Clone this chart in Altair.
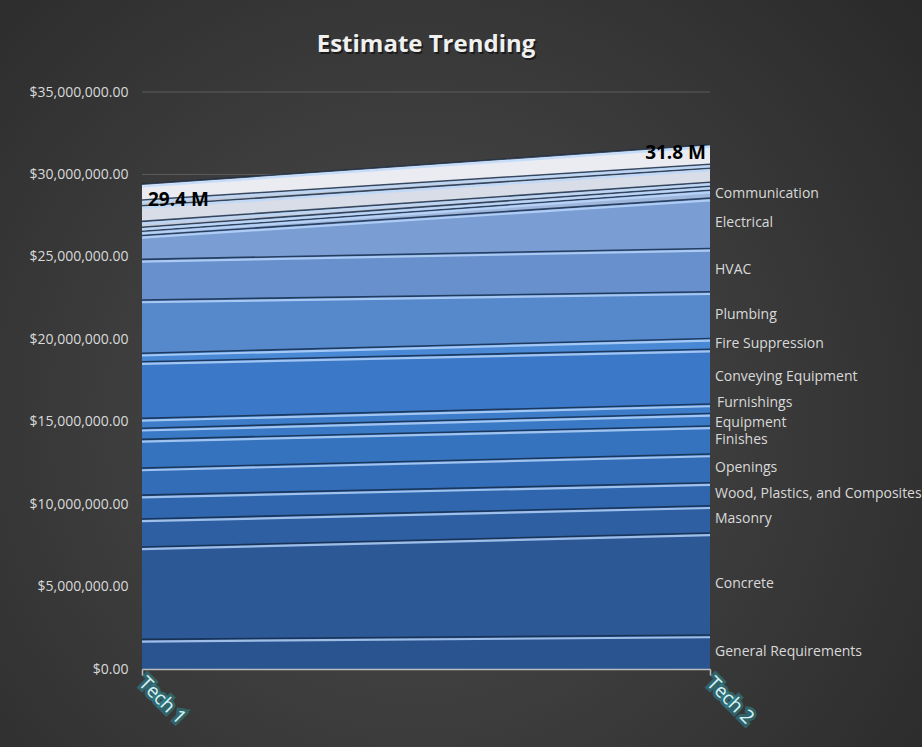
import altair as alt
import pandas as pd

stages = ["Tech 1", "Tech 2"]
categories = [
    "General Requirements", "Concrete", "Masonry", "Wood, Plastics, and Composites",
    "Openings", "Finishes", "Equipment", "Furnishings", "Conveying Equipment",
    "Fire Suppression", "Plumbing", "HVAC", "Electrical", "Communication",
    "Electronic Safety and Security", "Earthwork", "Exterior Improvements",
    "Utilities", "Transportation",
]
shown_labels = [
    "General Requirements", "Concrete", "Masonry", "Wood, Plastics, and Composites",
    "Openings", "Finishes", "Equipment", "Furnishings", "Conveying Equipment",
    "Fire Suppression", "Plumbing", "HVAC", "Electrical", "Communication",
]
# values in $ millions
tech1 = [1.80, 5.60, 1.70, 1.45, 1.64, 1.74, 0.67, 0.60, 3.44, 0.51, 3.23, 2.47,
         1.45, 0.25, 0.25, 0.35, 0.95, 0.35, 0.95]
tech2 = [2.06, 6.19, 1.65, 1.40, 1.74, 1.70, 0.76, 0.57, 3.33, 0.65, 2.83, 2.63,
         3.05, 0.49, 0.24, 0.24, 0.85, 0.24, 1.18]
y_ticks = [0, 5e6, 10e6, 15e6, 20e6, 25e6, 30e6, 35e6]
title_text = "Estimate Trending"

fill_colors = [
    "#2a5490", "#2c5896", "#2e5fa3", "#3066ad", "#336db7", "#3673be", "#3a79c5",
    "#3c7cc9", "#3b79c8", "#4888d4", "#5688cc", "#6790cc", "#7a9dd3", "#a0b7dd",
    "#b9c5dc", "#c6ccda", "#d8dde7", "#c4cad6", "#eaecf1",
]

rows = []
for i, c in enumerate(categories):
    for s, vals in zip(stages, [tech1, tech2]):
        rows.append({"Stage": s, "Category": c, "order": i, "Value": vals[i] * 1e6,
                     "Label": c if c in shown_labels else ""})
df = pd.DataFrame(rows)

W, H = 568, 577
font = "Open Sans"

xscale = alt.Scale(domain=stages, type="point", padding=0)
xenc = alt.X("Stage:N", scale=xscale,
             axis=alt.Axis(title=None, labels=False, domain=True, domainColor="#bcbcbc",
                           domainWidth=1.5, ticks=True, tickColor="#bcbcbc", tickSize=6,
                           tickWidth=1.5, grid=False, zindex=1))
yscale = alt.Scale(domain=[0, 35e6], nice=False, zero=True)

bg = alt.Chart(pd.DataFrame({"a": [0]})).mark_rect(
    fill={"gradient": "radial",
          "stops": [{"offset": 0, "color": "#4d4d4d"}, {"offset": 1, "color": "#262626"}],
          "x1": 0.45, "y1": 0.55, "x2": 0.45, "y2": 0.55, "r1": 0, "r2": 0.78}
).encode(x=alt.value(-142), x2=alt.value(780), y=alt.value(-92), y2=alt.value(655))

grid = alt.Chart(pd.DataFrame({"v": y_ticks})).mark_rule(color="#5c5c5c", strokeWidth=1).encode(
    y=alt.Y("v:Q", scale=yscale,
            axis=alt.Axis(title=None, format="$,.2f", labelColor="#d9d9d9", labelFont=font,
                          labelFontSize=14, ticks=False, tickSize=0, domain=False, grid=False,
                          labelPadding=14, values=y_ticks, zindex=1))
)

base = alt.Chart(df).transform_stack(
    stack="Value", groupby=["Stage"], sort=[alt.SortField("order", order="ascending")],
    as_=["lo", "hi"]
)

areas = base.mark_area(opacity=1).encode(
    x=xenc,
    y=alt.Y("hi:Q", scale=yscale),
    y2="lo:Q",
    color=alt.Color("Category:N", scale=alt.Scale(domain=categories, range=fill_colors),
                    legend=None),
    order="order:Q",
)

dark = base.mark_line(color="#142a48", strokeWidth=1.6, opacity=0.8).encode(
    x=alt.X("Stage:N", scale=xscale),
    y=alt.Y("hi:Q", scale=yscale), detail="Category:N")

light = base.mark_line(color="#bcd8fc", strokeWidth=2.2, opacity=0.8, yOffset=2.2).encode(
    x=alt.X("Stage:N", scale=xscale),
    y=alt.Y("hi:Q", scale=yscale), detail="Category:N")

label_base = base.transform_filter(
    (alt.datum.Stage == "Tech 2") & (alt.datum.Label != "")
).transform_calculate(mid="(datum.lo + datum.hi) / 2")

cat_labels = label_base.transform_filter(
    (alt.datum.Label != "Furnishings") & (alt.datum.Label != "Equipment")
).mark_text(
    align="left", baseline="middle", dx=5, font=font, fontSize=14, color="#d9d9d9"
).encode(x=alt.X("Stage:N", scale=xscale), y=alt.Y("mid:Q", scale=yscale), text="Label:N")

furn_label = label_base.transform_filter(alt.datum.Label == "Furnishings").mark_text(
    align="left", baseline="middle", dx=7, dy=-6, font=font, fontSize=14, color="#d9d9d9"
).encode(x=alt.X("Stage:N", scale=xscale), y=alt.Y("mid:Q", scale=yscale), text="Label:N")

equip_label = label_base.transform_filter(alt.datum.Label == "Equipment").mark_text(
    align="left", baseline="middle", dx=5, dy=3, font=font, fontSize=14, color="#d9d9d9"
).encode(x=alt.X("Stage:N", scale=xscale), y=alt.Y("mid:Q", scale=yscale), text="Label:N")

totals = alt.Chart(df).transform_aggregate(total="sum(Value)", groupby=["Stage"]).transform_calculate(
    txt="format(datum.total / 1e6, '.1f') + ' M'")

tot_left = totals.transform_filter(alt.datum.Stage == "Tech 1").mark_text(
    align="left", baseline="middle", dx=6, dy=16, font=font, fontSize=19, fontWeight="bold",
    color="#000000").encode(
    x=alt.X("Stage:N", scale=xscale), y=alt.Y("total:Q", scale=yscale), text="txt:N")

tot_right = totals.transform_filter(alt.datum.Stage == "Tech 2").mark_text(
    align="right", baseline="middle", dx=-4, dy=8, font=font, fontSize=19, fontWeight="bold",
    color="#000000").encode(
    x=alt.X("Stage:N", scale=xscale), y=alt.Y("total:Q", scale=yscale), text="txt:N")

stage_df = pd.DataFrame({"Stage": stages})
xlab_glow = alt.Chart(stage_df).mark_text(
    align="left", baseline="middle", angle=45, font=font, fontSize=19,
    stroke="#2e8f9a", strokeWidth=6, strokeOpacity=0.5, fill="#2e8f9a"
).encode(x=alt.X("Stage:N", scale=xscale), y=alt.value(H + 11), text="Stage:N")
xlab = alt.Chart(stage_df).mark_text(
    align="left", baseline="middle", angle=45, font=font, fontSize=19, color="#d8eff1"
).encode(x=alt.X("Stage:N", scale=xscale), y=alt.value(H + 11), text="Stage:N")

title_df = pd.DataFrame({"t": [title_text]})
title_shadow = alt.Chart(title_df).mark_text(
    align="center", baseline="alphabetic", font=font, fontSize=24, fontWeight="bold",
    color="#000000", opacity=0.5, dx=1.5, dy=1.5
).encode(x=alt.value(W / 2), y=alt.value(-40), text="t:N")
title = alt.Chart(title_df).mark_text(
    align="center", baseline="alphabetic", font=font, fontSize=24, fontWeight="bold",
    color="#f0f0f0"
).encode(x=alt.value(W / 2), y=alt.value(-40), text="t:N")

chart = alt.layer(
    bg, grid, areas, dark, light, cat_labels, furn_label, equip_label, tot_left, tot_right,
    xlab_glow, xlab, title_shadow, title
).resolve_scale(y="shared", x="shared").properties(
    width=W, height=H,
    autosize=alt.AutoSizeParams(type="none"),
    padding={"left": 142, "top": 92, "right": 212, "bottom": 78},
    background="#333333",
).configure_view(stroke=None)

chart.save("out.html", embed_options={"renderer": "svg", "actions": False})
